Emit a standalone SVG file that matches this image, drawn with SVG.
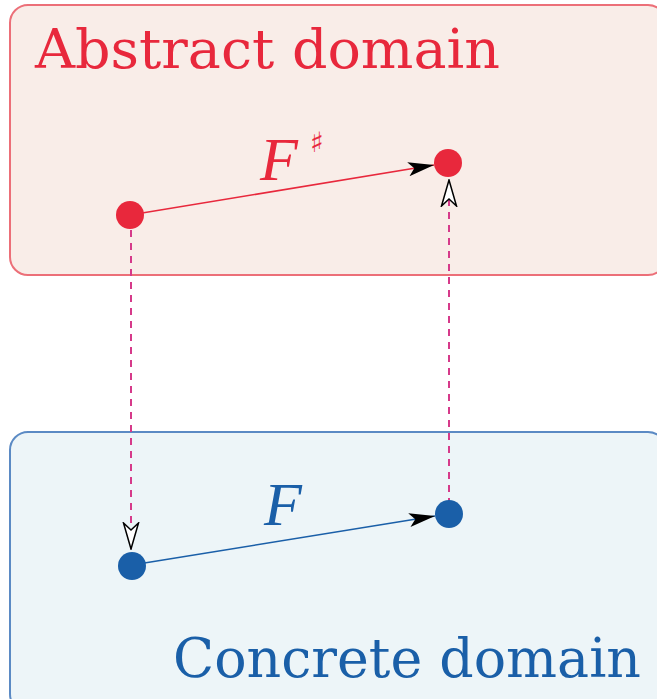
<svg xmlns="http://www.w3.org/2000/svg" width="657" height="699" viewBox="0 0 657 699">
<style>
.title{font-family:"DejaVu Serif","Liberation Serif",serif;font-size:54px}
.lbl{font-family:"Liberation Serif",serif;font-style:italic;font-size:62px}
.dash{stroke:#d63a8a;stroke-width:2;stroke-dasharray:7,6;fill:none}
</style>
<defs>
<marker id="solid" markerUnits="userSpaceOnUse" markerWidth="26" markerHeight="16" refX="26" refY="8" orient="auto">
<path d="M0,1 L26,8 L0,15 L6,8 Z" fill="#000"/>
</marker>
<marker id="open" markerUnits="userSpaceOnUse" markerWidth="28" markerHeight="18" refX="27" refY="9" orient="auto">
<path d="M1,1.5 L27,9 L1,16.5 L8,9 Z" fill="#fff" stroke="#000" stroke-width="1.5"/>
</marker>
</defs>
<g id="abstract">
<rect x="10" y="5" width="656" height="270" rx="18" fill="#f9ede8" stroke="#ec6f78" stroke-width="2"/>
<text class="title" x="35" y="68" fill="#e8283c" textLength="465" lengthAdjust="spacingAndGlyphs">Abstract domain</text>
</g>
<g id="concrete">
<rect x="10" y="432" width="656" height="280" rx="18" fill="#edf5f8" stroke="#5b8ac4" stroke-width="2"/>
<text class="title" x="173" y="677" fill="#1a5fa8" textLength="468" lengthAdjust="spacingAndGlyphs">Concrete domain</text>
</g>
<g id="connectors">
<line class="dash" x1="131" y1="230" x2="131" y2="549" marker-end="url(#open)"/>
<line class="dash" x1="449" y1="505" x2="449" y2="180" marker-end="url(#open)"/>
<line x1="130" y1="215" x2="434" y2="165" stroke="#e8283c" stroke-width="1.6" marker-end="url(#solid)"/>
<line x1="132" y1="565" x2="435" y2="516" stroke="#1a5fa8" stroke-width="1.6" marker-end="url(#solid)"/>
</g>
<g id="a1"><circle cx="130" cy="215" r="14" fill="#e8283c"/></g>
<g id="a2"><circle cx="448" cy="163" r="14" fill="#e8283c"/></g>
<g id="c1"><circle cx="132" cy="566" r="14" fill="#1a5fa8"/></g>
<g id="c2"><circle cx="449" cy="514" r="14" fill="#1a5fa8"/></g>
<g id="labels">
<text class="lbl" x="260" y="180" fill="#e8283c">F</text>
<text x="310" y="152" font-family="DejaVu Sans,sans-serif" font-size="28" fill="#e8283c">♯</text>
<text class="lbl" x="264" y="525" fill="#1a5fa8">F</text>
</g>
</svg>
